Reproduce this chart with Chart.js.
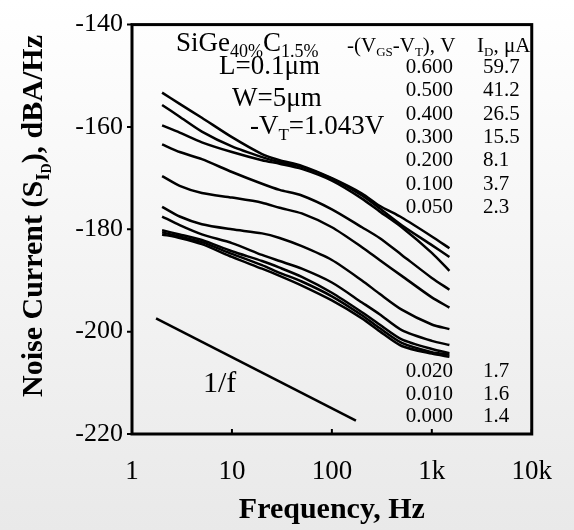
<!DOCTYPE html>
<html><head><meta charset="utf-8">
<script src="https://cdn.jsdelivr.net/npm/chart.js@4"></script>
<style>
html,body{margin:0;padding:0;}
body{width:574px;height:530px;background:linear-gradient(#ffffff,#e9e9e9);overflow:hidden;}
#wrap{position:relative;width:574px;height:530px;}
</style></head><body><div id="wrap"><canvas id="c" width="574" height="530"></canvas></div>
<script>
// ---- data ----
const frequencies = [2, 3, 5, 10, 20, 30, 50, 100, 200, 300, 500, 1000, 1500];
const n600 = [-153.3,-155.5,-158.2,-162.0,-165.3,-166.5,-167.6,-170.0,-173.0,-175.4,-177.7,-181.4,-183.7];
const n500 = [-155.7,-158.0,-160.9,-163.8,-165.9,-166.9,-167.8,-170.1,-173.4,-175.9,-179.2,-183.1,-185.4];
const n400 = [-159.7,-161.1,-163.0,-164.9,-166.5,-167.2,-168.2,-170.5,-174.0,-176.5,-179.6,-184.6,-188.1];
const n300 = [-163.4,-164.9,-166.3,-168.8,-171.1,-172.3,-173.4,-176.1,-179.6,-181.7,-185.0,-189.5,-191.8];
const n200 = [-169.6,-171.5,-172.9,-173.8,-174.8,-175.8,-176.9,-179.6,-183.5,-186.0,-189.1,-193.3,-195.3];
const n100 = [-175.6,-177.5,-179.0,-180.0,-180.8,-181.7,-183.3,-186.0,-190.0,-192.6,-195.7,-198.6,-199.5];
const n050 = [-177.5,-179.2,-181.0,-182.7,-185.0,-186.2,-187.7,-190.4,-194.3,-196.6,-199.7,-201.8,-202.6];
const n020 = [-180.2,-181.0,-182.1,-184.3,-186.2,-187.5,-189.3,-192.4,-196.2,-198.6,-201.5,-203.4,-204.2];
const n010 = [-180.6,-181.4,-182.5,-184.8,-187.0,-188.5,-190.2,-193.1,-196.8,-199.3,-202.2,-204.0,-204.5];
const n000 = [-181.0,-181.7,-182.9,-185.4,-187.7,-189.1,-191.0,-193.9,-197.4,-199.9,-202.8,-204.3,-204.9];
const oneOverFFreq = [1.74, 174];
const oneOverFValues = [-197.4, -217.4];
const xTickValues = [1, 10, 100, 1000, 10000];
const xTickLabels = ['1', '10', '100', '1k', '10k'];
const yTickValues = [-220, -200, -180, -160, -140];
const yTickLabels = ['-220', '-200', '-180', '-160', '-140'];
const vgsTop = ['0.600','0.500','0.400','0.300','0.200','0.100','0.050'];
const idTop = ['59.7','41.2','26.5','15.5','8.1','3.7','2.3'];
const vgsBottom = ['0.020','0.010','0.000'];
const idBottom = ['1.7','1.6','1.4'];

const SERIF = "'Liberation Serif', 'DejaVu Serif', serif";
const allSeries = [n600, n500, n400, n300, n200, n100, n050, n020, n010, n000];
const datasets = allSeries.map(s => ({
  data: frequencies.map((f, i) => ({x: f, y: s[i]})),
  borderColor: '#000', borderWidth: 2.5, pointRadius: 0, tension: 0.25, fill: false
}));
datasets.push({
  data: oneOverFFreq.map((f, i) => ({x: f, y: oneOverFValues[i]})),
  borderColor: '#000', borderWidth: 2.5, pointRadius: 0, tension: 0, fill: false
});

function rich(ctx, parts, x, y, align) {
  let w = 0;
  parts.forEach(p => { ctx.font = (p[2] ? 'bold ' : '') + p[1] + 'px ' + SERIF; w += ctx.measureText(p[0]).width; });
  let cx = align === 'center' ? x - w / 2 : (align === 'right' ? x - w : x);
  ctx.textAlign = 'left';
  ctx.textBaseline = 'alphabetic';
  parts.forEach(p => {
    ctx.font = (p[2] ? 'bold ' : '') + p[1] + 'px ' + SERIF;
    ctx.fillText(p[0], cx, y + (p[3] || 0));
    cx += ctx.measureText(p[0]).width;
  });
}

const decor = {
  id: 'decor',
  afterDraw(chart) {
    const ctx = chart.ctx, a = chart.chartArea;
    const xs = chart.scales.x, ys = chart.scales.y;
    ctx.save();
    ctx.strokeStyle = '#000';
    ctx.fillStyle = '#000';
    ctx.lineWidth = 3;
    ctx.strokeRect(a.left, a.top, a.right - a.left, a.bottom - a.top);
    ctx.lineWidth = 2;
    ctx.beginPath();
    xTickValues.forEach(v => { const px = xs.getPixelForValue(v); ctx.moveTo(px, a.bottom); ctx.lineTo(px, a.bottom - 5); });
    yTickValues.forEach(v => { const py = ys.getPixelForValue(v); ctx.moveTo(a.left - 5, py); ctx.lineTo(a.left, py); });
    ctx.stroke();

    // y title
    ctx.save();
    ctx.translate(42, 216);
    ctx.rotate(-Math.PI / 2);
    rich(ctx, [['Noise Current (S', 30, true], ['I', 19, true, 7], ['D', 14, true, 9], ['), dBA/Hz', 30, true]], 0, 0, 'center');
    ctx.restore();

    // annotations
    rich(ctx, [['SiGe', 27], ['40%', 18, false, 6], ['C', 27], ['1.5%', 18, false, 6]], 176, 51);
    rich(ctx, [['L=0.1\u03bcm', 27]], 219, 74);
    rich(ctx, [['W=5\u03bcm', 27]], 232, 106);
    rich(ctx, [['-V', 27], ['T', 17, false, 6], ['=1.043V', 27]], 250, 134);
    rich(ctx, [['-(V', 21], ['GS', 13, false, 4], ['-V', 21], ['T', 13, false, 4], ['), V', 21]], 347, 52);
    rich(ctx, [['I', 21], ['D', 13, false, 4], [', \u03bcA', 21]], 477, 52);
    vgsTop.forEach((t, i) => { rich(ctx, [[t, 21]], 453, 73 + i * 23.3, 'right'); rich(ctx, [[idTop[i], 21]], 483, 73 + i * 23.3); });
    vgsBottom.forEach((t, i) => { rich(ctx, [[t, 21]], 453, 377 + i * 22.5, 'right'); rich(ctx, [[idBottom[i], 21]], 483, 377 + i * 22.5); });
    rich(ctx, [['1/f', 30]], 203, 392);
    ctx.restore();
  }
};

new Chart(document.getElementById('c'), {
  type: 'line',
  data: { datasets },
  plugins: [decor],
  options: {
    responsive: false, animation: false,
    layout: { padding: { top: 19, right: 27, left: 0, bottom: 0 } },
    plugins: { legend: { display: false }, tooltip: { enabled: false } },
    scales: {
      x: {
        type: 'logarithmic', position: 'bottom', min: 1, max: 10000,
        grid: { display: false, drawTicks: false }, border: { display: false },
        afterBuildTicks: s => { s.ticks = xTickValues.map(v => ({ value: v })); },
        afterFit: s => { s.height = 96; },
        ticks: { autoSkip: false, maxRotation: 0, padding: 22, color: '#000',
          font: { family: SERIF, size: 27 }, callback: (v, i) => xTickLabels[i] },
        title: { display: true, text: 'Frequency, Hz', color: '#000', padding: { top: 0, bottom: 2 },
          font: { family: SERIF, size: 30, weight: 'bold' } }
      },
      y: {
        type: 'linear', min: -220, max: -140,
        grid: { display: false, drawTicks: false }, border: { display: false },
        afterBuildTicks: s => { s.ticks = yTickValues.map(v => ({ value: v })); },
        afterFit: s => { s.width = 132; },
        ticks: { padding: 9, color: '#000', font: { family: SERIF, size: 26 },
          callback: (v, i) => yTickLabels[i] }
      }
    }
  }
});
</script></body></html>
